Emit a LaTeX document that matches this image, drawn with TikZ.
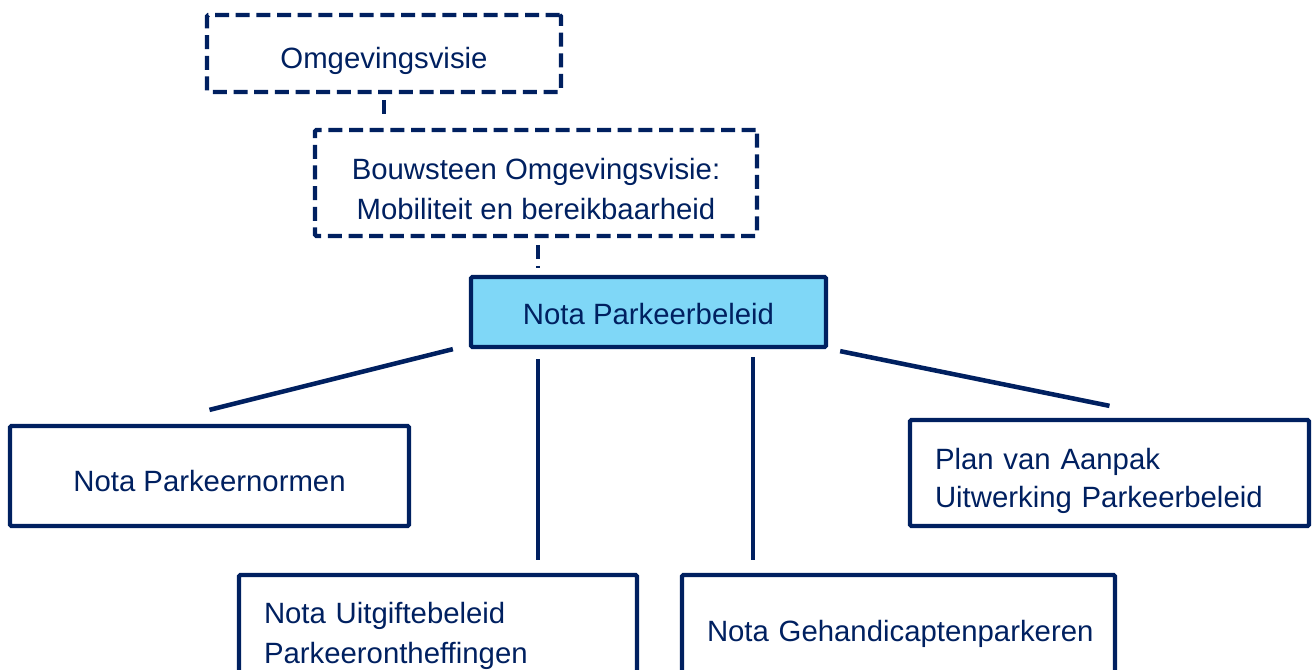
\documentclass[tikz,border=0pt]{standalone}
\usepackage{fontspec}
\setmainfont{Liberation Sans}
\usetikzlibrary{calc}
\definecolor{navy}{RGB}{0,32,96}
\definecolor{lightblue}{RGB}{127,215,247}
% text of a box, moved down by #1, lines set as in column type #2
\newcommand{\boxtext}[3]{\raisebox{-#1}[\height][\depth]{\begin{tabular}{@{}#2@{}}#3\end{tabular}}}

\begin{document}
\begin{tikzpicture}[x=0.75pt,y=0.75pt,yscale=-1,xscale=1,
  box/.style={draw=navy,line width=3.2pt,rounded corners=1pt,text=navy,inner sep=0pt,
    font=\fontsize{22}{30}\selectfont},
  dashbox/.style={box,dash pattern=on 10.5pt off 5pt},
  mainbox/.style={box,fill=lightblue},
  leftbox/.style={box,align=left,inner xsep=18.75pt},
  link/.style={draw=navy,line width=3.4pt},
  dashlink/.style={link,line width=3.2pt,dash pattern=on 10.5pt off 5pt}]
\useasboundingbox (0,0) rectangle (1313,670);
\clip (0,0) rectangle (1313,670);

% Text Node
\node [dashbox,minimum width=265.5pt,minimum height=57.75pt] (omg) at (384,53.5) {\boxtext{5.25pt}{c}{Omgevingsvisie}};
% Text Node
\node [dashbox,minimum width=331.5pt,minimum height=79.5pt] (bouw) at (536,183) {\boxtext{6.75pt}{c}{Bouwsteen Omgevingsvisie:\\Mobiliteit en bereikbaarheid}};
% Text Node
\node [mainbox,minimum width=266.25pt,minimum height=52.5pt] (beleid) at (648.5,312) {\boxtext{3.75pt}{c}{Nota Parkeerbeleid}};
% Text Node
\node [box,minimum width=299.25pt,minimum height=75pt] (normen) at (209.5,476) {\boxtext{5.25pt}{c}{Nota Parkeernormen}};
% Text Node
\node [leftbox,text width=261.75pt,minimum height=79.5pt] (plan) at (1109.5,473) {\boxtext{5.25pt}{l}{Plan van Aanpak\\[-1.5pt]Uitwerking Parkeerbeleid}};
% Text Node
\node [leftbox,text width=261pt,minimum height=85.5pt] (uitgifte) at (438,632) {\boxtext{2.25pt}{l}{Nota Uitgiftebeleid\\Parkeerontheffingen}};
% Text Node
\node [leftbox,text width=287.25pt,minimum height=82.5pt] (gehand) at (898.5,630) {\boxtext{2.25pt}{l}{Nota Gehandicaptenparkeren}};

%Straight Lines
\draw [dashlink] ($(omg.south)+(0,6)$) -- ($(omg.south |- bouw.north)+(0,-8)$);
%Straight Lines
\draw [dashlink] ($(bouw.south)+(2,7)$) -- ($(bouw.south |- beleid.north)+(2,-7)$);
%Straight Lines
\draw [link] ($(beleid.south west)+(-16,0)$) -- ($(normen.north)+(0,-14)$);
%Straight Lines
\draw [link] ($(beleid.south west)+(69,10)$) -- ($(beleid.south west |- uitgifte.north)+(69,-13)$);
%Straight Lines
\draw [link] ($(beleid.south east)+(-75,8)$) -- ($(beleid.south east |- gehand.north)+(-75,-13)$);
%Straight Lines
\draw [link] ($(beleid.south east)+(12,2)$) -- ($(plan.north)+(0,-12)$);

\end{tikzpicture}
\end{document}
